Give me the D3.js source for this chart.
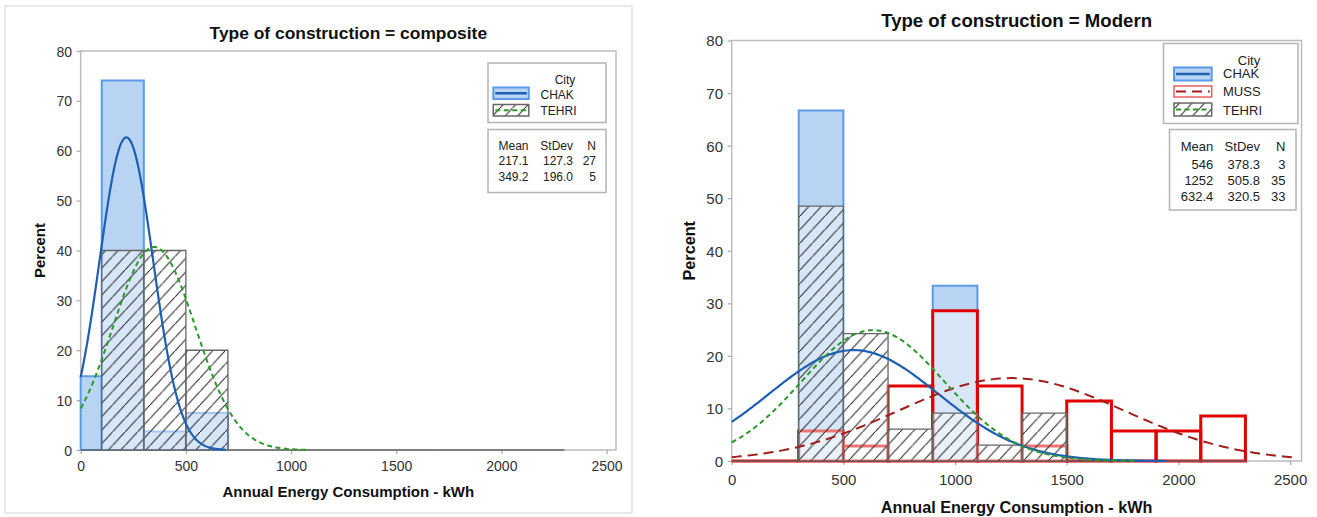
<!DOCTYPE html>
<html>
<head>
<meta charset="utf-8">
<script src="https://cdn.jsdelivr.net/npm/d3@7"></script>
<style>
  body { margin: 0; background: #fff; }
  svg text { font-family: "Liberation Sans", Arial, sans-serif; }
</style>
</head>
<body>
<svg id="chart" width="1317" height="517"></svg>
<script>
// Histogram bins: lower edges, width 200 kWh
const binLow = [-100, 100, 300, 500, 700, 900, 1100, 1300, 1500, 1700, 1900, 2100];
const binWidth = 200;
const xTicks = [0, 500, 1000, 1500, 2000, 2500];
const yTicks = [0, 10, 20, 30, 40, 50, 60, 70, 80];

// Composite construction (percent of households per bin)
const compositeCities = ["CHAK", "TEHRI"];
const compositeChak  = [14.81, 74.07, 3.70, 7.41, 0, 0, 0, 0, 0, 0, 0, 0];
const compositeTehri = [0, 40, 40, 20, 0, 0, 0, 0, 0, 0, 0, 0];
const compositeMean   = ["217.1", "349.2"];
const compositeStdDev = ["127.3", "196.0"];
const compositeN      = ["27", "5"];

// Modern construction (percent of households per bin)
const modernCities = ["CHAK", "MUSS", "TEHRI"];
const modernChak  = [0, 0, 66.67, 0, 0, 33.33, 0, 0, 0, 0, 0, 0];
const modernMuss  = [0, 0, 5.71, 2.86, 14.29, 28.57, 14.29, 2.86, 11.43, 5.71, 5.71, 8.57];
const modernTehri = [0, 0, 48.48, 24.24, 6.06, 9.09, 3.03, 9.09, 0, 0, 0, 0];
const modernMean   = ["546", "1252", "632.4"];
const modernStdDev = ["378.3", "505.8", "320.5"];
const modernN      = ["3", "35", "33"];

const cityStyle = {
  CHAK:  { fill: "#b9d3f3", fillOpacity: 1, stroke: "#5b9be8", sw: 2, curve: "#1d5fb3", dash: null, curveW: 2.2, skipZero: true },
  MUSS:  { fill: "#ffffff", fillOpacity: 0.45, stroke: "#e20000", sw: 3, curve: "#a31d1d", dash: "10,6", curveW: 2 },
  TEHRI: { fill: "#ffffff", fillOpacity: 0.45, stroke: "#666666", sw: 1.3, curve: "#2b9a2b", dash: "5,3.5", curveW: 2, hatch: true }
};

const panels = [
  {
    title: "Type of construction = composite",
    cities: compositeCities, values: [compositeChak, compositeTehri],
    mean: compositeMean, sd: compositeStdDev, n: compositeN,
    plot: { left: 80.7, right: 616, top: 51, bottom: 450 }, xMax: 2545,
    font: { title: 17.4, axis: 15, tick: 14, legend: 12 },
    titleY: 38.5, xTitleY: 497, yTitleX: 40, tickLabelY: 471, yLabelRight: 72,
    legend: {
      box: [488, 63, 606, 122.5], cityX: 565, cityY: 83.5,
      swX: 493.3, swW: 35.5, sw: [[87.5, 99], [104.5, 116]],
      labelX: 540.5, labelY: [98.5, 115],
      statBox: [488, 129.5, 606, 192.5], cols: [528.5, 573, 596], headY: 149.5, rowY: [164.5, 181]
    }
  },
  {
    title: "Type of construction = Modern",
    cities: modernCities, values: [modernChak, modernMuss, modernTehri],
    mean: modernMean, sd: modernStdDev, n: modernN,
    plot: { left: 731.7, right: 1301.5, top: 40.5, bottom: 461 }, xMax: 2551,
    font: { title: 18.6, axis: 16.2, tick: 15, legend: 13 },
    titleY: 27, xTitleY: 512.5, yTitleX: 689, tickLabelY: 484.5, yLabelRight: 723,
    legend: {
      box: [1163.5, 43.5, 1298, 123.5], cityX: 1249, cityY: 64.5,
      swX: 1174, swW: 37.7, sw: [[67.5, 80.5], [86, 97], [103, 116]],
      labelX: 1223, labelY: [78, 96, 114.5],
      statBox: [1169.5, 129.5, 1296, 210], cols: [1213.3, 1260, 1285.5], headY: 150.5, rowY: [168.5, 184.5, 200.5]
    }
  }
];

const svg = d3.select("#chart");
const defs = svg.append("defs");

// Diagonal hatch used for the TEHRI bars
const hw = 12.5, hh = 13.5;
const hatch = defs.append("pattern")
  .attr("id", "hatch").attr("patternUnits", "userSpaceOnUse")
  .attr("width", hw).attr("height", hh);
hatch.append("path")
  .attr("d", `M${-hw * 0.1},${hh * 1.1} L${hw * 1.1},${-hh * 0.1}`)
  .attr("stroke", "#2a2a2a").attr("stroke-width", 1.1).attr("fill", "none");

// Light border around the composite panel
svg.append("rect")
  .attr("x", 5).attr("y", 6).attr("width", 627).attr("height", 507)
  .attr("fill", "none").attr("stroke", "#dcdcdc").attr("stroke-width", 1.2);

function normalPercent(v, mean, sd) {
  const z = (v - mean) / sd;
  return 100 * binWidth * Math.exp(-0.5 * z * z) / (sd * Math.sqrt(2 * Math.PI));
}

panels.forEach(p => {
  const g = svg.append("g");
  const x = d3.scaleLinear().domain([0, p.xMax]).range([p.plot.left, p.plot.right]);
  const y = d3.scaleLinear().domain([0, 80]).range([p.plot.bottom, p.plot.top]);

  // Plot frame
  g.append("rect")
    .attr("x", p.plot.left).attr("y", p.plot.top)
    .attr("width", p.plot.right - p.plot.left).attr("height", p.plot.bottom - p.plot.top)
    .attr("fill", "none").attr("stroke", "#bdbdbd").attr("stroke-width", 1.5);

  // Axes
  const xa = g.append("g").attr("transform", `translate(0,${p.plot.bottom})`)
    .call(d3.axisBottom(x).tickValues(xTicks).tickFormat(d3.format("d")).tickSize(4).tickPadding(3));
  const ya = g.append("g").attr("transform", `translate(${p.plot.left},0)`)
    .call(d3.axisLeft(y).tickValues(yTicks).tickFormat(d3.format("d")).tickSize(4).tickPadding(3));
  [xa, ya].forEach(a => {
    a.select(".domain").remove();
    a.selectAll(".tick line").attr("stroke", "#a8a8a8").attr("stroke-width", 1.2);
    a.selectAll(".tick text").attr("fill", "#333").attr("font-size", p.font.tick)
      .attr("font-family", "Liberation Sans, Arial, sans-serif");
  });
  xa.selectAll(".tick text").attr("y", null).attr("dy", null)
    .attr("transform", `translate(0,${p.tickLabelY - p.plot.bottom})`);
  ya.selectAll(".tick text").attr("x", p.yLabelRight - p.plot.left).attr("dy", "0.36em");

  // Bars, drawn city by city so later groups veil the earlier ones
  p.cities.forEach((city, ci) => {
    const st = cityStyle[city];
    const vals = p.values[ci];
    const bins = binLow.map((lo, i) => ({ lo, v: vals[i] }))
      .filter(b => !(st.skipZero && b.v === 0));
    const barPath = b => {
      const x0 = x(Math.max(b.lo, 0)), x1 = x(b.lo + binWidth);
      const y0 = y(0), y1 = y(b.v);
      return `M${x0},${y0}V${y1}H${x1}V${y0}Z`;
    };
    const bg = g.append("g");
    bg.selectAll("path.fill").data(bins).join("path")
      .attr("class", "fill").attr("d", barPath)
      .attr("fill", st.fill).attr("fill-opacity", st.fillOpacity).attr("stroke", "none");
    if (st.hatch) {
      bg.selectAll("path.hatch").data(bins).join("path")
        .attr("class", "hatch").attr("d", barPath)
        .attr("fill", "url(#hatch)").attr("stroke", "none");
    }
    bg.selectAll("path.edge").data(bins).join("path")
      .attr("class", "edge").attr("d", barPath)
      .attr("fill", "none").attr("stroke", st.stroke).attr("stroke-width", st.sw)
      .attr("stroke-linejoin", "miter");
  });

  // Fitted normal curves
  p.cities.forEach((city, ci) => {
    const st = cityStyle[city];
    const m = +p.mean[ci], s = +p.sd[ci];
    const lo = Math.max(0, m - 3.7 * s), hi = Math.min(2520, m + 3.7 * s);
    const pts = d3.range(0, 201).map(k => {
      const v = lo + (hi - lo) * k / 200;
      return [v, normalPercent(v, m, s)];
    });
    g.append("path")
      .attr("d", d3.line().x(d => x(d[0])).y(d => y(d[1])).curve(d3.curveLinear)(pts))
      .attr("fill", "none").attr("stroke", st.curve).attr("stroke-width", st.curveW)
      .attr("stroke-dasharray", st.dash);
  });

  // Titles
  g.append("text").attr("x", (p.plot.left + p.plot.right) / 2).attr("y", p.titleY)
    .attr("text-anchor", "middle").attr("font-weight", "bold").attr("font-size", p.font.title)
    .attr("fill", "#111").text(p.title);
  g.append("text").attr("x", (p.plot.left + p.plot.right) / 2).attr("y", p.xTitleY)
    .attr("text-anchor", "middle").attr("font-weight", "bold").attr("font-size", p.font.axis)
    .attr("fill", "#111").text("Annual Energy Consumption - kWh");
  g.append("text")
    .attr("transform", `translate(${p.yTitleX},${(p.plot.top + p.plot.bottom) / 2}) rotate(-90)`)
    .attr("text-anchor", "middle").attr("dy", "0.36em").attr("font-weight", "bold")
    .attr("font-size", p.font.axis).attr("fill", "#111").text("Percent");

  // Legend
  const L = p.legend;
  const lg = g.append("g");
  const boxRect = b => lg.append("rect")
    .attr("x", b[0]).attr("y", b[1]).attr("width", b[2] - b[0]).attr("height", b[3] - b[1])
    .attr("fill", "#fff").attr("stroke", "#b4b4b4").attr("stroke-width", 1.5);
  boxRect(L.box);
  lg.append("text").attr("x", L.cityX).attr("y", L.cityY).attr("text-anchor", "middle")
    .attr("font-size", p.font.legend).attr("fill", "#222").text("City");
  p.cities.forEach((city, ci) => {
    const st = cityStyle[city];
    const [t, b] = L.sw[ci];
    lg.append("rect").attr("x", L.swX).attr("y", t).attr("width", L.swW).attr("height", b - t)
      .attr("fill", st.hatch ? "url(#hatch)" : st.fill)
      .attr("stroke", city === "MUSS" ? "#e86060" : st.stroke)
      .attr("stroke-width", city === "CHAK" ? 2 : 1.5);
    lg.append("line").attr("x1", L.swX + 2).attr("x2", L.swX + L.swW - 2)
      .attr("y1", (t + b) / 2).attr("y2", (t + b) / 2)
      .attr("stroke", st.curve).attr("stroke-width", city === "CHAK" ? 2.5 : 2.2)
      .attr("stroke-dasharray", st.dash);
    lg.append("text").attr("x", L.labelX).attr("y", L.labelY[ci])
      .attr("font-size", p.font.legend).attr("fill", "#222").text(city);
  });

  boxRect(L.statBox);
  const cols = [["Mean", p.mean], ["StDev", p.sd], ["N", p.n]];
  cols.forEach(([head, vals], k) => {
    lg.append("text").attr("x", L.cols[k]).attr("y", L.headY).attr("text-anchor", "end")
      .attr("font-size", p.font.legend).attr("fill", "#222").text(head);
    vals.forEach((v, r) => {
      lg.append("text").attr("x", L.cols[k]).attr("y", L.rowY[r]).attr("text-anchor", "end")
        .attr("font-size", p.font.legend).attr("fill", "#222").text(v);
    });
  });
});
</script>
</body>
</html>
